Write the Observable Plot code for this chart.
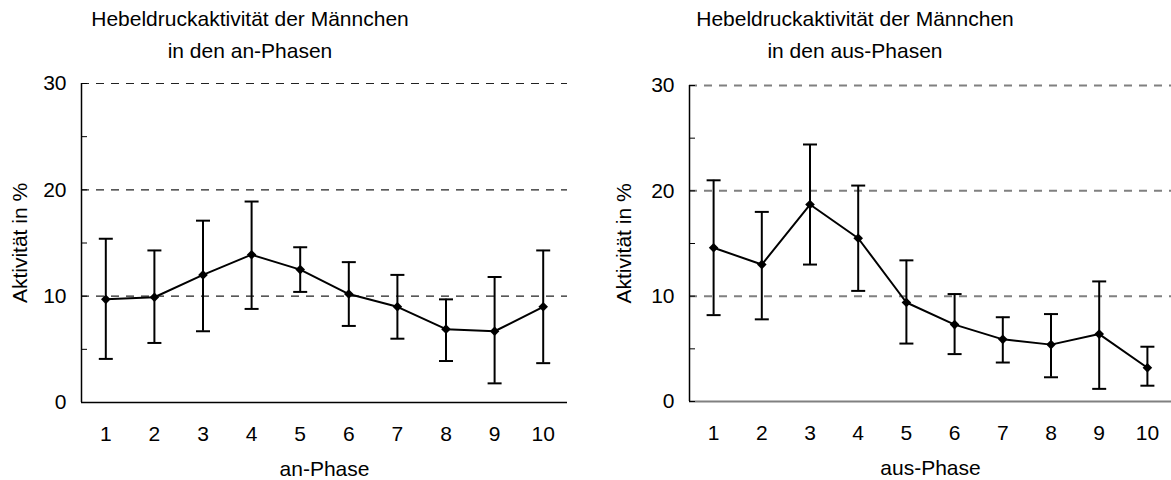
<!DOCTYPE html>
<html><head><meta charset="utf-8">
<script src="https://cdn.jsdelivr.net/npm/d3@7"></script>
<script src="https://cdn.jsdelivr.net/npm/@observablehq/plot@0.6"></script>
<style>
body{margin:0;background:#fff;}
#wrap{position:relative;width:1171px;height:480px;overflow:hidden;font-family:Arial,"Liberation Sans",sans-serif;color:#000;}
.panel{position:absolute;top:0;}
.title{position:absolute;top:3px;width:460px;text-align:center;font-size:21px;line-height:32px;}
</style></head><body>
<div id="wrap"></div>
<script>
// ---- data ----
const phases = [1,2,3,4,5,6,7,8,9,10];
const anMean = [9.7, 9.9, 12.0, 13.9, 12.5, 10.2, 9.0, 6.9, 6.7, 9.0];
const anHigh = [15.4, 14.3, 17.1, 18.9, 14.6, 13.2, 12.0, 9.7, 11.8, 14.3];
const anLow  = [4.1, 5.6, 6.7, 8.8, 10.4, 7.2, 6.0, 3.9, 1.8, 3.7];
const ausMean = [14.6, 13.0, 18.7, 15.5, 9.4, 7.3, 5.9, 5.4, 6.4, 3.2];
const ausHigh = [21.0, 18.0, 24.4, 20.5, 13.4, 10.2, 8.0, 8.3, 11.4, 5.2];
const ausLow  = [8.2, 7.8, 13.0, 10.5, 5.5, 4.5, 3.7, 2.3, 1.2, 1.5];
const yTicks = [0, 10, 20, 30];
const yMinor = [0, 5, 10, 15, 20, 25, 30];
const yGrid = [10, 20, 30];
const titles = ["Hebeldruckaktivität der Männchen<br>in den an-Phasen", "Hebeldruckaktivität der Männchen<br>in den aus-Phasen"];
const xLabels = ["an-Phase", "aus-Phase"];
const yLabel = "Aktivität in %";

const capSymbol = {draw(ctx, size){ const w = 7; ctx.moveTo(-w,0); ctx.lineTo(w,0); }};
const diamond = {draw(ctx, size){ const h = 4.8; ctx.moveTo(0,-h); ctx.lineTo(h,0); ctx.lineTo(0,h); ctx.lineTo(-h,0); ctx.closePath(); }};

function panel(o){
  const data = phases.map((p,i)=>({p, m:o.mean[i], lo:o.low[i], hi:o.high[i]}));
  return Plot.plot({
    width:o.width, height:480,
    marginLeft:o.mL, marginRight:o.mR, marginTop:o.mT, marginBottom:o.mB,
    style:{fontFamily:'Arial,"Liberation Sans",sans-serif', fontSize:"21px", color:"#000", background:"transparent", overflow:"visible"},
    x:{domain:[0.5,10.5]},
    y:{domain:[0,30]},
    marks:[
      Plot.ruleY(yGrid, {stroke:o.gridColor, strokeWidth:o.gridWidth, strokeDasharray:"8,7"}),
      Plot.ruleY([0], {stroke:o.baseColor, strokeWidth:o.baseWidth}),
      Plot.ruleX([0.5], {stroke:"#000", strokeWidth:1.5}),
      Plot.axisY({ticks:yMinor, tickSize:-6, tickFormat:()=>"", label:null, stroke:"#000"}),
      Plot.axisY({ticks:yTicks, tickSize:0, tickPadding:15, label:yLabel, labelAnchor:"center", labelArrow:"none", labelOffset:o.yLabOff}),
      Plot.axisX({ticks:phases, tickSize:0, tickPadding:24, label:o.xLabel, labelAnchor:"center", labelArrow:"none", labelOffset:73}),
      Plot.ruleX(data, {x:"p", y1:"lo", y2:"hi", stroke:"#000", strokeWidth:2}),
      Plot.dot(data, {x:"p", y:"hi", symbol:capSymbol, stroke:"#000", strokeWidth:2, fill:"none", r:4}),
      Plot.dot(data, {x:"p", y:"lo", symbol:capSymbol, stroke:"#000", strokeWidth:2, fill:"none", r:4}),
      Plot.line(data, {x:"p", y:"m", stroke:"#000", strokeWidth:2}),
      Plot.dot(data, {x:"p", y:"m", symbol:diamond, fill:"#000", stroke:"none", r:4})
    ]
  });
}

const wrap = document.getElementById("wrap");
const specs = [
  {left:0, width:585, mL:81, mR:18, mT:83, mB:78, yLabOff:69, mean:anMean, high:anHigh, low:anLow, gridColor:"#222", gridWidth:1.2, baseColor:"#000", baseWidth:1.5, xLabel:xLabels[0], tcx:250},
  {left:600, width:571, mL:89, mR:0, mT:85, mB:79, yLabOff:73, mean:ausMean, high:ausHigh, low:ausLow, gridColor:"#808080", gridWidth:2, baseColor:"#808080", baseWidth:2, xLabel:xLabels[1], tcx:855}
];
specs.forEach((s,i)=>{
  const d = document.createElement("div");
  d.className = "panel"; d.style.left = s.left+"px";
  d.appendChild(panel(s));
  wrap.appendChild(d);
  const t = document.createElement("div");
  t.className = "title"; t.style.left = (s.tcx-230)+"px"; t.innerHTML = titles[i];
  wrap.appendChild(t);
});
</script>
</body></html>
